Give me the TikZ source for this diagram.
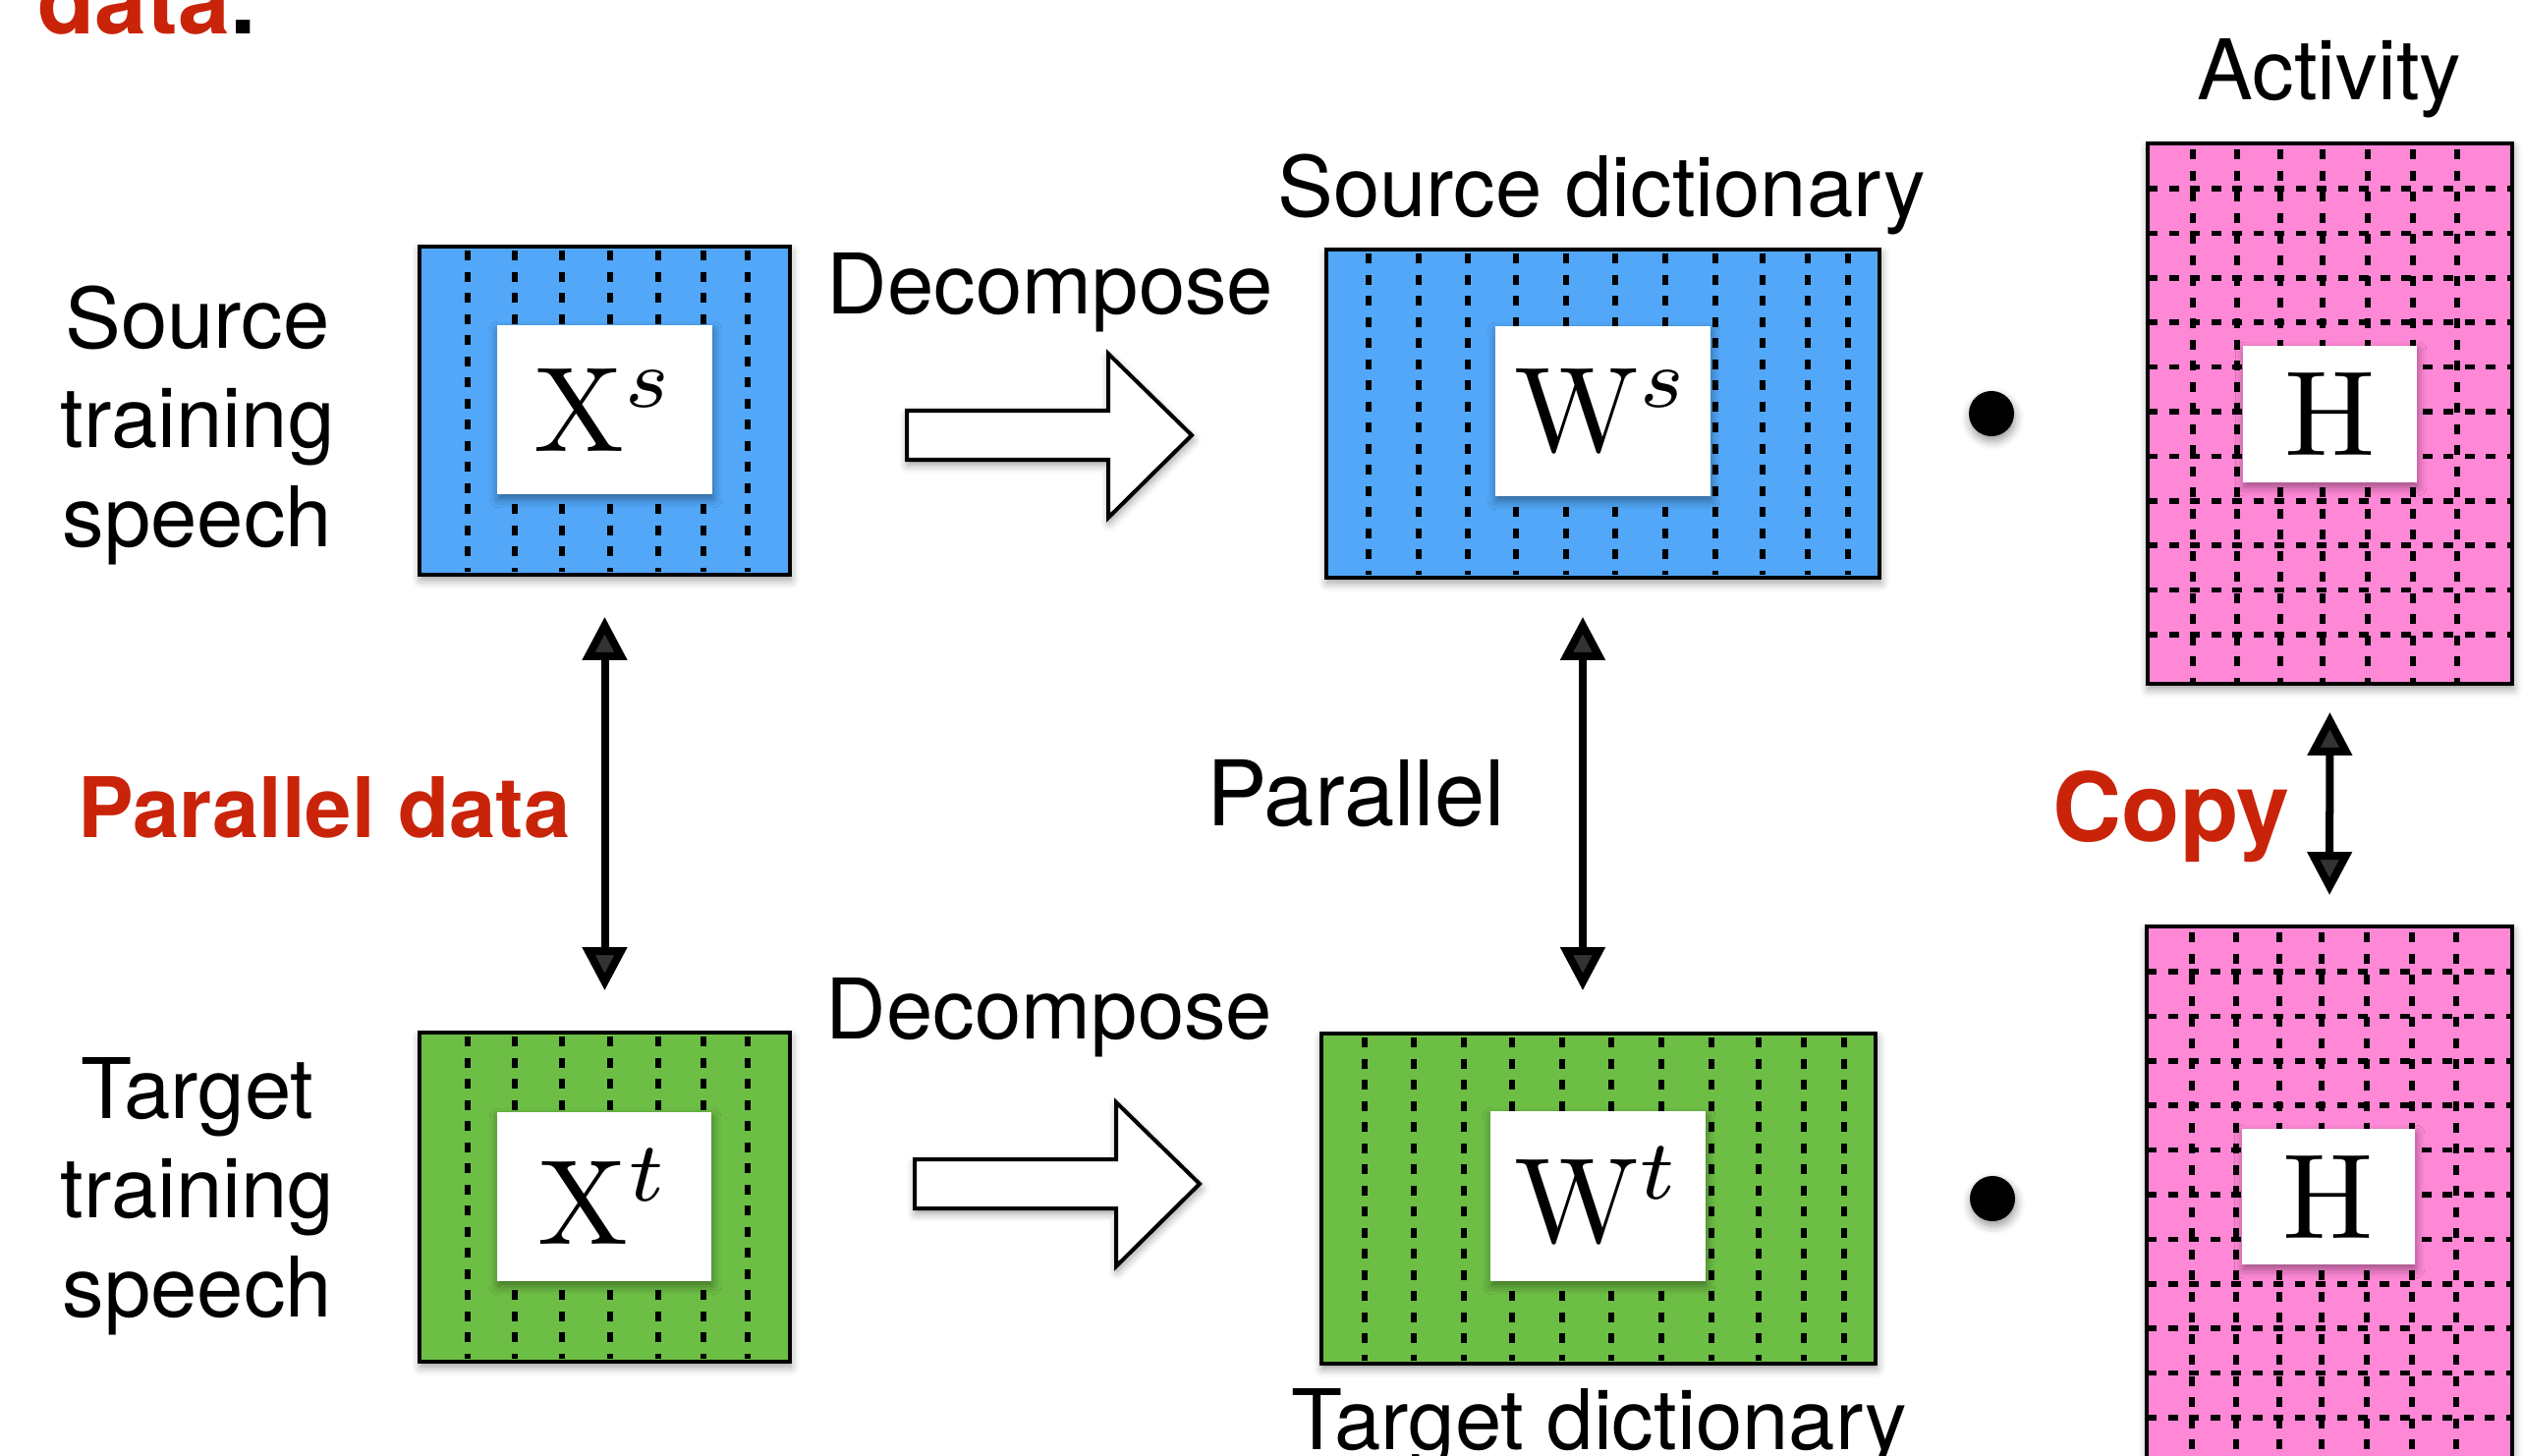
\documentclass[tikz,border=0pt]{standalone}
\usepackage{graphicx}
\usepackage{fontspec}
\newfontfamily\hv{TeX Gyre Heros}
\usetikzlibrary{arrows.meta,shadows.blur}
\definecolor{sblue}{HTML}{52A7F9}
\definecolor{tgreen}{HTML}{6DBE45}
\definecolor{hpink}{HTML}{FF88D6}
\definecolor{tred}{HTML}{C9240A}
\newcommand{\bigmath}[1]{\scalebox{3.5}{$#1$}}
\begin{document}
\begin{tikzpicture}[x=0.01cm,y=-0.01cm,
  shad/.style={blur shadow={shadow xshift=0.3pt,shadow yshift=-1.4pt,shadow blur radius=2.5pt,shadow opacity=40}},
  matbox/.style={draw=black,line width=0.035cm,inner sep=0,shad},
  wbox/.style={fill=white,inner sep=0,shad},
  dsh/.style={line width=0.056cm,dash pattern=on 0.1cm off 0.115cm},
  lbl/.style={font=\hv\fontsize{24.2}{28.7}\selectfont,inner sep=0},
  redlbl/.style={inner sep=0,text=tred},
  dbl/.style={line width=0.08cm,{Triangle[width=0.44cm,length=0.44cm]}-{Triangle[width=0.44cm,length=0.44cm]}},
  hollow/.style={draw=black,fill=white,line width=0.04cm,line join=miter,shad},
  dotnode/.style={circle,fill=black,minimum size=0.46cm,inner sep=0,shad}]
\useasboundingbox (0,0) rectangle (2568,1482);

% title fragment
\node[anchor=base west,inner sep=0,font=\hv\bfseries\fontsize{27}{32}\selectfont] (title) at (38,35) {\textcolor{tred}{data}.};

% coloured matrices
\node[matbox,fill=sblue,minimum width=3.77cm,minimum height=3.34cm] (xs) at (615.5,418) {};
\node[matbox,fill=tgreen,minimum width=3.77cm,minimum height=3.35cm] (xt) at (615.5,1218.5) {};
\node[matbox,fill=sblue,minimum width=5.63cm,minimum height=3.34cm] (ws) at (1631.5,421) {};
\node[matbox,fill=tgreen,minimum width=5.64cm,minimum height=3.36cm] (wt) at (1627,1220) {};
\node[matbox,fill=hpink,minimum width=3.71cm,minimum height=5.50cm] (ht) at (2371.5,421) {};
\node[matbox,fill=hpink,minimum width=3.72cm,minimum height=5.50cm] (hb) at (2371,1218) {};

% dashed columns
\foreach \x in {476,524,572,621,670,716,761} {
  \draw[dsh] (\x,255) -- (\x,582);
  \draw[dsh] (\x,1055) -- (\x,1383);
}
\foreach \x in {1393,1444,1494,1543,1594,1644,1695,1746,1794,1840,1881}
  \draw[dsh] (\x,258) -- (\x,585);
\foreach \x in {1389,1439,1490,1539,1590,1640,1691,1742,1790,1836,1877}
  \draw[dsh] (\x,1056) -- (\x,1385);
% activity grids
\foreach \dx in {46,91,135,178,224,270,315} {
  \draw[dsh] (2186+\dx,152) -- (2186+\dx,694);
  \draw[dsh] (2185+\dx,949) -- (2185+\dx,1492);
}
\foreach \k in {0,...,10}
  \draw[dsh] (2186,{192+45.4*\k}) -- (2557,{192+45.4*\k});
\foreach \k in {0,...,11}
  \draw[dsh] (2185,{989+45.4*\k}) -- (2557,{989+45.4*\k});

% white label boxes
\node[wbox,minimum width=2.19cm,minimum height=1.72cm] (xsw) at (615.5,417) {\bigmath{\mathrm{X}^{s}}};
\node[wbox,minimum width=2.18cm,minimum height=1.72cm] (xtw) at (615,1218) {\bigmath{\mathrm{X}^{t}}};
\node[wbox,minimum width=2.19cm,minimum height=1.73cm] (wsw) at (1631.5,418.5) {\bigmath{\mathrm{W}^{s}}};
\node[wbox,minimum width=2.19cm,minimum height=1.73cm] (wtw) at (1626.5,1217.5) {\bigmath{\mathrm{W}^{t}}};
\node[wbox,minimum width=1.77cm,minimum height=1.39cm] (htw) at (2371.5,421.5) {\bigmath{\mathrm{H}}};
\node[wbox,minimum width=1.76cm,minimum height=1.38cm] (hbw) at (2370,1218) {\bigmath{\mathrm{H}}};

% dots
\node[dotnode] (d1) at (2027,421) {};
\node[dotnode] (d2) at (2028,1220) {};

% hollow decompose arrows
\draw[hollow] (923,418) -- (1128,418) -- (1128,360) -- (1213,443) -- (1128,527) -- (1128,468) -- (923,468) -- cycle;
\draw[hollow] (931,1180) -- (1136,1180) -- (1136,1122) -- (1221,1205) -- (1136,1289) -- (1136,1230) -- (931,1230) -- cycle;

% double arrows
\coordinate (pr) at (1611,0);
\draw[dbl,shorten <=0.41cm,shorten >=0.41cm] (xs.south) -- (xt.north);
\draw[dbl,shorten <=0.38cm,shorten >=0.42cm] (ws.south -| pr) -- (wt.north -| pr);
\draw[dbl,shorten <=0.27cm,shorten >=0.30cm] (ht.south) -- (hb.north);

% labels
\node[lbl,anchor=north,align=center] (src) at (201,290) {Source\\training\\speech};
\node[lbl,anchor=north,align=center] (tgt) at (201,1076) {Target\\training\\speech};
\node[lbl,anchor=base] (dec1) at (1069,320) {Decompose};
\node[lbl,anchor=base] (dec2) at (1068,1057) {Decompose};
\node[lbl,anchor=base] (sd) at (1630,221) {Source dictionary};
\node[lbl,anchor=base] (td) at (1628,1475) {Target dictionary};
\node[lbl,anchor=base] (act) at (2371,102) {Activity};
\node[lbl,anchor=base,font=\hv\fontsize{26.2}{30}\selectfont] (par) at (1380,840) {Parallel};
\node[redlbl,anchor=base,font=\hv\bfseries\fontsize{24.2}{28}\selectfont] (pd) at (330,852) {Parallel data};
\node[redlbl,anchor=base,font=\hv\bfseries\fontsize{27.6}{32}\selectfont] (copy) at (2210,856) {Copy};
\end{tikzpicture}
\end{document}
